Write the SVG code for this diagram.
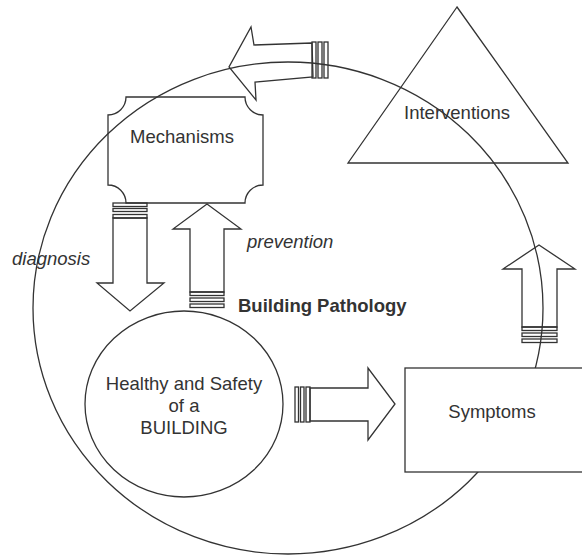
<svg xmlns="http://www.w3.org/2000/svg" width="582" height="555" viewBox="0 0 582 555">
<style>
.s{fill:none;stroke:#333;stroke-width:1.3;stroke-linejoin:miter}
.w{fill:#fff;stroke:#333;stroke-width:1.3}
.t{font-family:"Liberation Sans",Arial,sans-serif;font-size:18.5px;fill:#333;text-anchor:middle}
.i{font-style:italic;text-anchor:start}
.b{font-weight:bold;text-anchor:start}
</style>
<rect width="582" height="555" fill="#fff"/>
<g id="cycle">
<ellipse class="s" cx="288" cy="308" rx="255" ry="246"/>
</g>
<g id="symptoms">
<rect class="w" x="405" y="368" width="200" height="104"/>
<text class="t" x="492" y="418">Symptoms</text>
</g>
<g id="mechanisms">
<path class="s" d="M126 97 H245 A18 18 0 0 0 263 115 V185 A18 18 0 0 0 245 203 H126 A18 18 0 0 0 108 185 V115 A18 18 0 0 0 126 97 Z"/>
<text class="t" x="182" y="143">Mechanisms</text>
</g>
<g id="interventions">
<polygon class="s" points="457,7 348,163 568,163"/>
<text class="t" x="457" y="119">Interventions</text>
</g>
<g id="health">
<ellipse class="s" cx="184" cy="404" rx="99" ry="93"/>
<text class="t" x="184" y="390">Healthy and Safety</text>
<text class="t" x="184" y="412">of a</text>
<text class="t" x="184" y="434">BUILDING</text>
</g>
<g id="connectors">
<polygon class="s" points="312,43 254,45 251,27 229,67 256,100 255,82 313,77"/>
<rect class="s" x="312" y="42" width="4" height="36"/>
<rect class="s" x="318" y="42" width="4" height="36"/>
<rect class="s" x="324" y="42" width="4" height="36"/>
<polygon class="s" points="113,218 113,283 97,283 130,311 164,283 147,283 147,218"/>
<rect class="s" x="113" y="203" width="34" height="3.5"/>
<rect class="s" x="113" y="208.5" width="34" height="3"/>
<rect class="s" x="113" y="214.5" width="34" height="3.5"/>
<polygon class="s" points="190,292 190,229 173,229 207,204 241,229 224,229 224,292"/>
<rect class="s" x="190" y="292" width="34" height="3.5"/>
<rect class="s" x="190" y="298" width="34" height="3.5"/>
<rect class="s" x="190" y="304" width="34" height="3.5"/>
<polygon class="s" points="310,388 368,388 368,368 395,404 368,440 368,421 310,421"/>
<rect class="s" x="295" y="387" width="3.5" height="35"/>
<rect class="s" x="300.5" y="387" width="3.5" height="35"/>
<rect class="s" x="306" y="387" width="4" height="35"/>
<polygon class="s" points="522,327 522,269 503,269 539,245 575,269 557,269 557,327"/>
<rect class="s" x="522" y="327" width="35" height="3.5"/>
<rect class="s" x="522" y="333" width="35" height="3.5"/>
<rect class="s" x="522" y="339" width="35" height="3.5"/>
</g>
<g id="labels">
<text class="t i" x="12" y="265">diagnosis</text>
<text class="t i" x="247" y="248">prevention</text>
<text class="t b" x="238" y="312">Building Pathology</text>
</g>
</svg>
